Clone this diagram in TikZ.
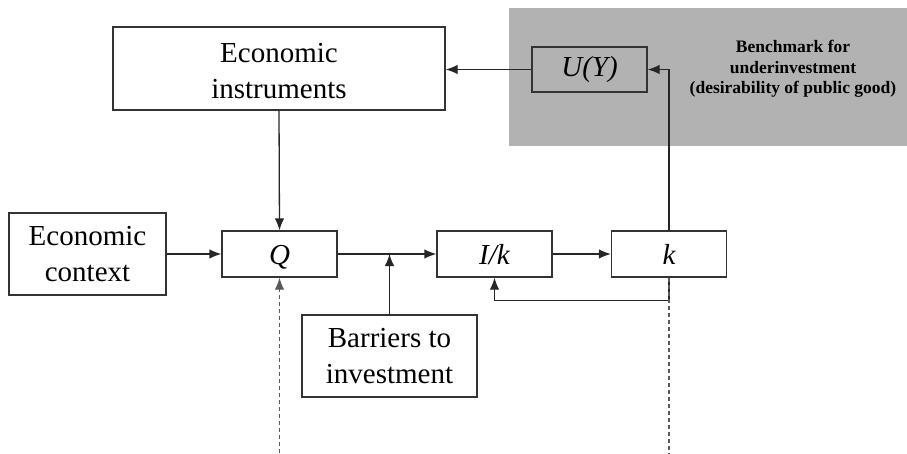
\documentclass[tikz,border=0pt]{standalone}
\usepackage{fontspec}
\setmainfont{Liberation Serif}
\usetikzlibrary{arrows.meta}
\begin{document}
\begin{tikzpicture}[x=1pt,y=-1pt,
 box/.style={draw=black!80, line width=1.3pt, fill=white, inner sep=0pt, align=center, font=\fontsize{29}{36}\selectfont},
 sym/.style={box, minimum width=115, minimum height=46, text height=20.5pt, text depth=0pt, font=\fontsize{29}{36}\selectfont\itshape},
 arr/.style={-{Latex[length=12pt,width=9.5pt]}, line width=1.3pt, draw=black!85},
 dsh/.style={line width=1.3pt, draw=black!65, dash pattern=on 4pt off 3pt}]
\useasboundingbox (0,0) rectangle (907,453);
\node[fill=black!30, minimum width=398, minimum height=138, inner sep=0pt] (panel) at (708,77) {};
\node[font=\bfseries\fontsize{17.5}{20.5}\selectfont, align=center, inner sep=0pt] (bt) at (793,69) {Benchmark for\\underinvestment\\(desirability of public good)};
\node[box, minimum width=332, minimum height=83] (ei) at (279,68.5) {\rule{0pt}{24pt}Economic\\instruments};
\node[box, minimum width=115, minimum height=45, fill=none, text height=20pt, text depth=7pt, font=\fontsize{29}{36}\selectfont\itshape] (uy) at (589.5,69.5) {U(Y)};
\node[box, minimum width=157, minimum height=82] (ec) at (87.5,254) {Economic\\context};
\node[sym] (q) at (279.5,254) {Q};
\node[sym] (ik) at (494.5,254) {I/k};
\node[sym] (k) at (669,254) {k};
\node[box, minimum width=175, minimum height=82] (bar) at (389.5,356) {Barriers to\\investment};
\coordinate (d1) at (279.5,453);
\coordinate (d2) at (669,453);
\draw[arr] (uy.west) -- (uy.west -| ei.east);
\draw[arr] (ei.south) -- (q.north);
\draw[arr] (ec.east) -- (q.west);
\draw[arr] (q.east) -- (ik.west);
\draw[arr] (bar.north) -- (bar.north |- q.east);
\draw[arr] (ik.east) -- (k.west);
\draw[arr] (k.north) |- (uy.east);
\draw[arr] (k.south) -- ++(0,23) -| (ik.south);
\draw[dsh, -{Latex[length=12pt,width=9.5pt]}] (d1) -- (q.south);
\draw[dsh] (k.south) -- (d2);
\end{tikzpicture}
\end{document}
